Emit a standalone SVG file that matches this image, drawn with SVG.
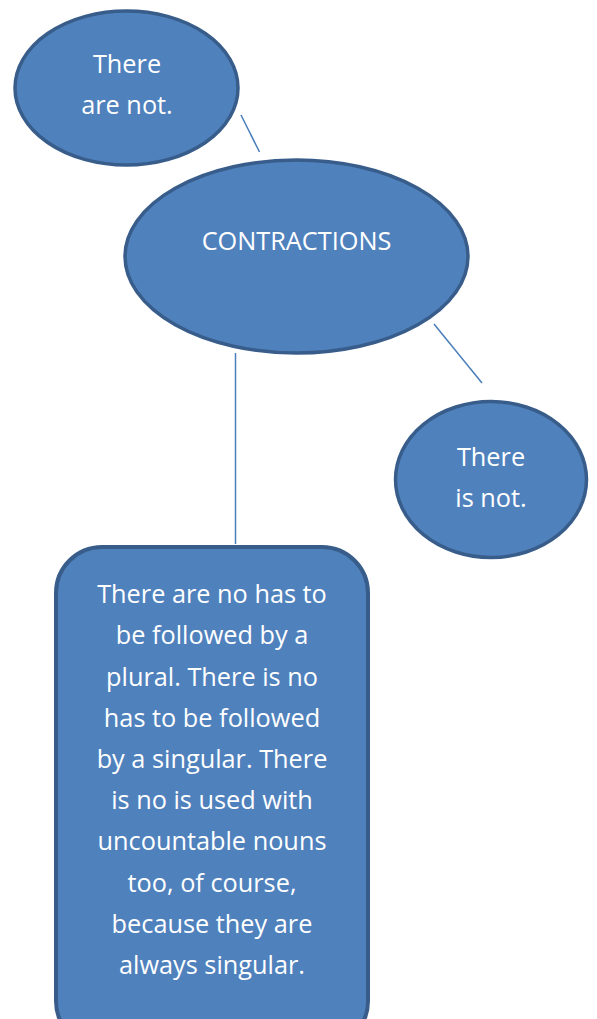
<svg xmlns="http://www.w3.org/2000/svg" width="597" height="1019" viewBox="0 0 597 1019">
<style>
.shape{fill:#4F81BD;stroke:#385D8A;stroke-width:3.5}
.conn{stroke:#4A7EBB;stroke-width:1.5;fill:none}
text{font-family:"Open Sans","Liberation Sans",sans-serif;font-size:25.3px;fill:#FFFFFF;text-anchor:middle}
</style>
<rect width="597" height="1019" fill="#FFFFFF"/>
<g id="connectors">
<line class="conn" x1="241" y1="115" x2="259.5" y2="152"/>
<line class="conn" x1="434" y1="324" x2="482" y2="383"/>
<line class="conn" x1="235.5" y1="353" x2="235.5" y2="544"/>
</g>
<g id="node-there-are-not">
<ellipse class="shape" cx="126.5" cy="88" rx="111.5" ry="77"/>
<text x="127" y="73">There</text>
<text x="127" y="114">are not.</text>
</g>
<g id="node-contractions">
<ellipse class="shape" cx="296.5" cy="256.5" rx="171.5" ry="96.5"/>
<text x="296.5" y="250">CONTRACTIONS</text>
</g>
<g id="node-there-is-not">
<ellipse class="shape" cx="491" cy="479.5" rx="95.5" ry="78"/>
<text x="491" y="466">There</text>
<text x="491" y="507">is not.</text>
</g>
<g id="node-explanation">
<rect x="56" y="547" width="312" height="500" rx="46" ry="46" style="fill:#4F81BD;stroke:#385D8A;stroke-width:4"/>
<text x="212" y="603">There are no has to</text>
<text x="212" y="644">be followed by a</text>
<text x="212" y="685.5">plural. There is no</text>
<text x="212" y="726.5">has to be followed</text>
<text x="212" y="768">by a singular. There</text>
<text x="212" y="809">is no is used with</text>
<text x="212" y="850">uncountable nouns</text>
<text x="212" y="891.5">too, of course,</text>
<text x="212" y="932.5">because they are</text>
<text x="212" y="974">always singular.</text>
</g>
</svg>
